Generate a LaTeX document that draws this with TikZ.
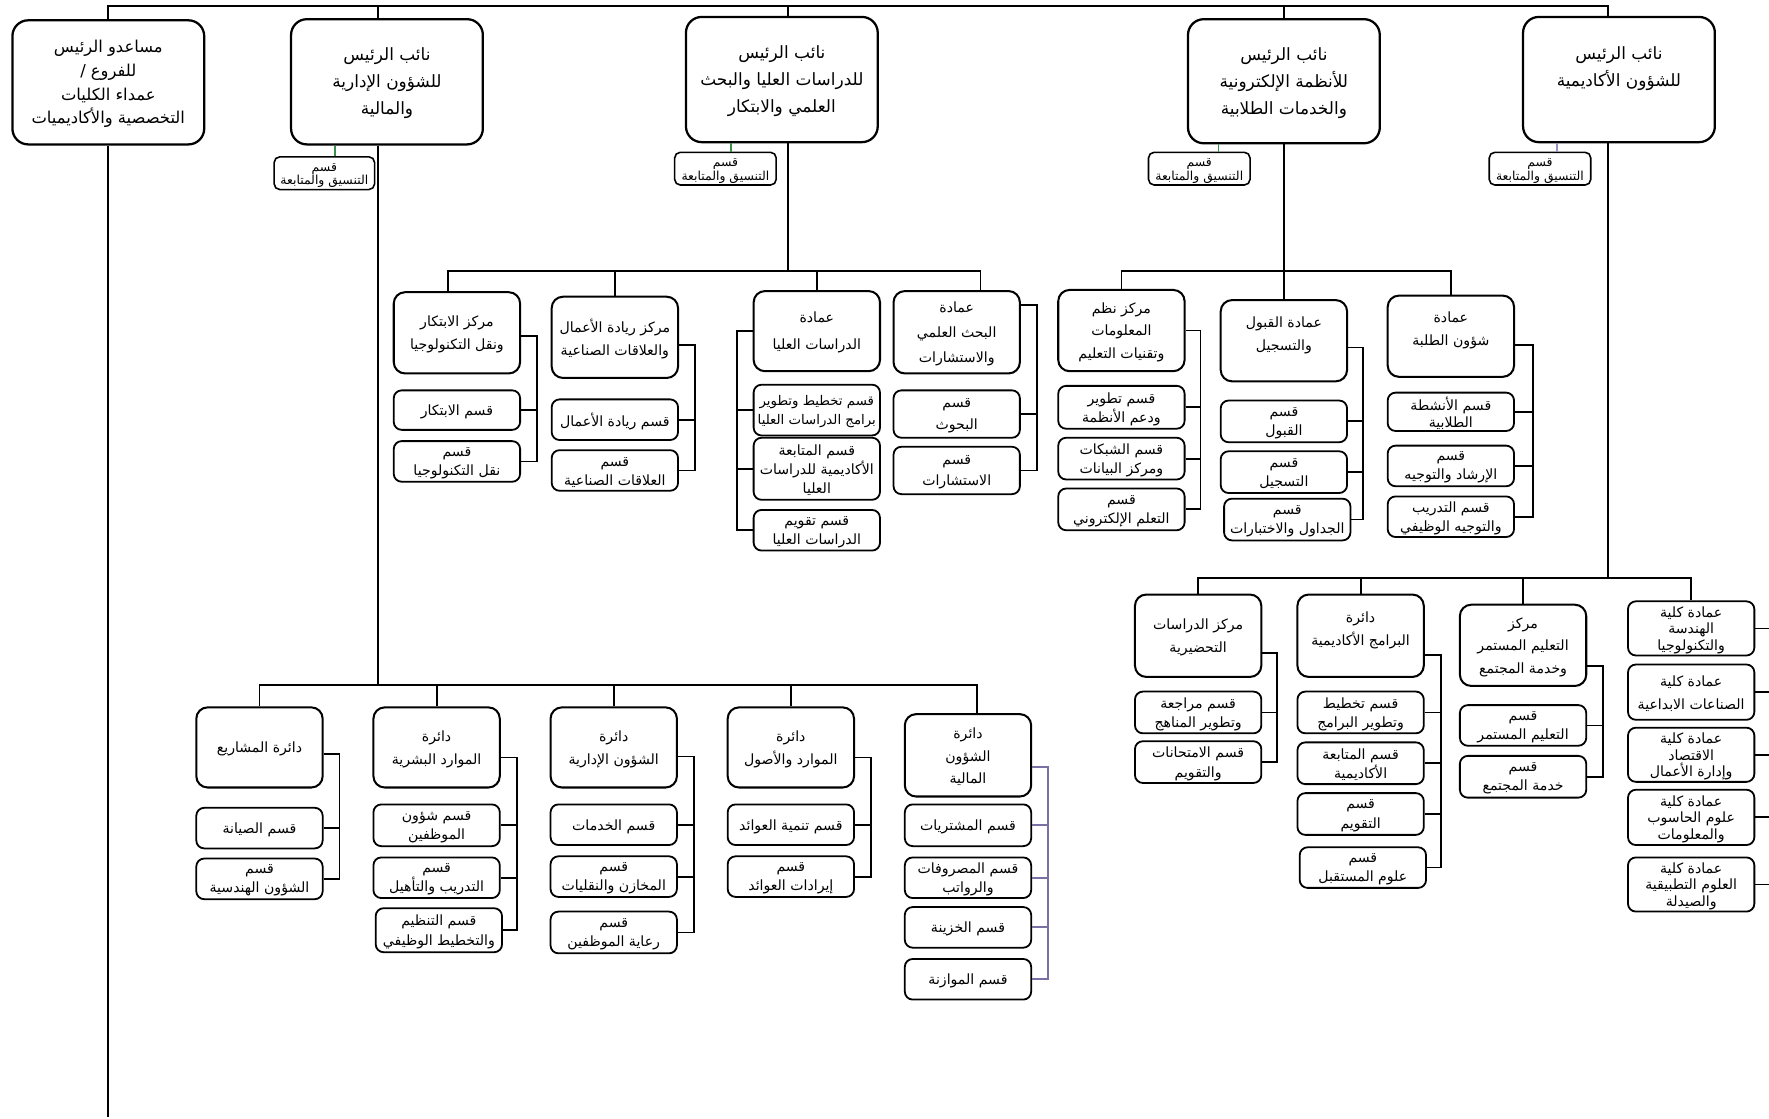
\documentclass[tikz,border=0pt]{standalone}
\usepackage{fontspec}
\usetikzlibrary{fit}
\newfontfamily\arabicfont[Script=Arabic]{DejaVu Sans}
\TeXXeTstate=1
\newcommand{\arl}[1]{\beginR #1\endR}
\definecolor{grn}{HTML}{3A8F4A}
\definecolor{prp}{HTML}{7B6FA3}
\definecolor{lav}{HTML}{9A90BF}
\tikzset{
  vp/.style={draw, line width=2pt, rounded corners=14pt, fill=white, align=center, inner sep=0pt, font=\arabicfont\fontsize{15}{24}\selectfont},
  hd/.style={draw, line width=1.8pt, rounded corners=10pt, fill=white, align=center, inner sep=0pt, font=\arabicfont\fontsize{12.5}{20}\selectfont},
  sb/.style={draw, line width=1.6pt, rounded corners=7pt, fill=white, align=center, inner sep=0pt, font=\arabicfont\fontsize{12.5}{17}\selectfont},
  cl/.style={sb, font=\arabicfont\fontsize{12.5}{14.5}\selectfont},
  co/.style={draw, line width=1.4pt, rounded corners=5pt, fill=white, align=center, inner sep=0pt, font=\arabicfont\fontsize{11}{12}\selectfont},
  ln/.style={line width=1.6pt, draw=black},
  cln/.style={line width=1.5pt},
}
% box drawn to given corners, text placed slightly lower than centre
\newcommand{\bx}[5][sb]{%
  \node[#1, fit={(#3) (#4)}] (#2) {};%
  \node[#1, draw=none, fill=none] (#2t) at ([yshift=-1.5pt]#2.center) {#5};%
}
\newcommand{\cbx}[4]{%
  \node[co, fit={(#2) (#3)}] (#1) {};%
  \node[co, draw=none, fill=none] (#1t) at ([yshift=-2pt]#1.center) {#4};%
}
\begin{document}
\begin{tikzpicture}[x=1pt,y=-1pt]
\useasboundingbox (0,0) rectangle (1568,991);
\fill[white] (0,0) rectangle (1568,991);
% ---------- top level
\bx[vp, font=\arabicfont\fontsize{14.5}{21}\selectfont]{A}{11,18}{181,128}{\arl{مساعدو الرئيس}\\\arl{للفروع /}\\\arl{عمداء الكليات}\\\arl{التخصصية والأكاديميات}}
\bx[vp]{B}{258,17}{428,128}{\arl{نائب الرئيس}\\\arl{للشؤون الإدارية}\\\arl{والمالية}}
\bx[vp]{C}{608,15}{778,126}{\arl{نائب الرئيس}\\\arl{للدراسات العليا والبحث}\\\arl{العلمي والابتكار}}
\bx[vp]{D}{1053,17}{1223,127}{\arl{نائب الرئيس}\\\arl{للأنظمة الإلكترونية}\\\arl{والخدمات الطلابية}}
\bx[vp]{E}{1350,15}{1520,126}{\arl{نائب الرئيس}\\\arl{للشؤون الأكاديمية}\\[-6pt]\strut}
\cbx{Bco}{243,139}{332,168}{\arl{قسم}\\\arl{التنسيق والمتابعة}}
\cbx{Cco}{598,135}{688,164}{\arl{قسم}\\\arl{التنسيق والمتابعة}}
\cbx{Dco}{1018,135}{1108,164}{\arl{قسم}\\\arl{التنسيق والمتابعة}}
\cbx{Eco}{1320,135}{1410,164}{\arl{قسم}\\\arl{التنسيق والمتابعة}}
\coordinate (top) at (0,5);
\coordinate (abot) at (0,990);
\draw[ln] (A.north) -- (A.north |- top) -- ([xshift=-10pt]E.north |- top) -- ([xshift=-10pt]E.north);
\draw[ln] ([xshift=-8pt]B.north) -- ([xshift=-8pt]B.north |- top);
\draw[ln] ([xshift=5.5pt]C.north) -- ([xshift=5.5pt]C.north |- top);
\draw[ln] (D.north) -- (D.north |- top);
\draw[ln] (A.south) -- (A.south |- abot);
\draw[grn, cln] (Bco.north -| 297,0) -- (B.south -| 297,0);
\draw[grn, cln] (Cco.north -| 648,0) -- (C.south -| 648,0);
\draw[grn, cln] (Dco.north -| 1080,0) -- (D.south -| 1080,0);
\draw[lav, cln] (Eco.north -| 1380,0) -- (E.south -| 1380,0);

% ---------- section C
\bx[hd]{c1}{349,259}{461,331}{\arl{مركز الابتكار}\\\arl{ونقل التكنولوجيا}}
\bx{c1a}{349,346}{461,381}{\arl{قسم الابتكار}}
\bx{c1b}{349,391}{461,427}{\arl{قسم}\\\arl{نقل التكنولوجيا}}
\bx[hd]{c2}{489,263}{601,335}{\arl{مركز ريادة الأعمال}\\\arl{والعلاقات الصناعية}}
\bx{c2a}{489,354}{601,390}{\arl{قسم ريادة الأعمال}}
\bx{c2b}{489,399}{601,435}{\arl{قسم}\\\arl{العلاقات الصناعية}}
\bx[hd]{c3}{668,258}{780,329}{\arl{عمادة}\\[4pt]\arl{الدراسات العليا}}
\bx[sb, font=\arabicfont\fontsize{11.8}{17}\selectfont]{c3a}{668,341}{780,386}{\arl{قسم تخطيط وتطوير}\\\arl{برامج الدراسات العليا}}
\bx{c3b}{668,388}{780,443}{\arl{قسم المتابعة}\\\arl{الأكاديمية للدراسات}\\\arl{العليا}}
\bx{c3c}{668,452}{780,488}{\arl{قسم تقويم}\\\arl{الدراسات العليا}}
\bx[hd, font=\arabicfont\fontsize{12.5}{22}\selectfont]{c4}{792,258}{904,331}{\arl{عمادة}\\\arl{البحث العلمي}\\\arl{والاستشارات}}
\bx[sb, font=\arabicfont\fontsize{12.5}{19}\selectfont]{c4a}{792,346}{904,388}{\arl{قسم}\\\arl{البحوث}}
\bx[sb, font=\arabicfont\fontsize{12.5}{19}\selectfont]{c4b}{792,396}{904,438}{\arl{قسم}\\\arl{الاستشارات}}
\coordinate (cbar) at (0,240);
\draw[ln] ([xshift=5.5pt]C.south) -- ([xshift=5.5pt]C.south |- cbar);
\draw[ln] ([xshift=-8pt]c1.north) -- ([xshift=-8pt]c1.north |- cbar) -- ([xshift=21pt]c4.north |- cbar) -- ([xshift=21pt]c4.north);
\draw[ln] (c2.north) -- (c2.north |- cbar);
\draw[ln] (c3.north) -- (c3.north |- cbar);
\coordinate (kc1) at (476,0);
\draw[ln] ([yshift=-3pt]c1.east) -- ([yshift=-3pt]c1.east -| kc1) -- (c1b.east -| kc1) -- (c1b.east);
\draw[ln] (c1a.east) -- (c1a.east -| kc1);
\coordinate (kc2) at (616,0);
\draw[ln] ([yshift=-7pt]c2.east) -- ([yshift=-7pt]c2.east -| kc2) -- (c2b.east -| kc2) -- (c2b.east);
\draw[ln] (c2a.east) -- (c2a.east -| kc2);
\coordinate (kc3) at (653,0);
\draw[ln] (c3.west) -- (c3.west -| kc3) -- (c3c.west -| kc3) -- (c3c.west);
\draw[ln] (c3a.west) -- (c3a.west -| kc3);
\draw[ln] (c3b.west) -- (c3b.west -| kc3);
\coordinate (kc4) at (919,0);
\draw[ln] ([yshift=24pt]c4.east) -- ([yshift=24pt]c4.east -| kc4) -- (c4b.east -| kc4) -- (c4b.east);
\draw[ln] (c4a.east) -- (c4a.east -| kc4);

% ---------- section D
\bx[hd]{d1}{938,257}{1050,329}{\arl{مركز نظم}\\\arl{المعلومات}\\\arl{وتقنيات التعليم}}
\bx{d1a}{938,342}{1050,380}{\arl{قسم تطوير}\\\arl{ودعم الأنظمة}}
\bx{d1b}{938,388}{1050,425}{\arl{قسم الشبكات}\\\arl{ومركز البيانات}}
\bx{d1c}{938,433}{1050,470}{\arl{قسم}\\\arl{التعلم الإلكتروني}}
\bx[hd]{d2}{1082,266}{1194,338}{\arl{عمادة القبول}\\\arl{والتسجيل}\\[-10pt]\strut}
\bx{d2a}{1082,355}{1194,392}{\arl{قسم}\\\arl{القبول}}
\bx{d2b}{1082,400}{1194,437}{\arl{قسم}\\\arl{التسجيل}}
\bx{d2c}{1085,442}{1197,479}{\arl{قسم}\\\arl{الجداول والاختبارات}}
\bx[hd]{d3}{1230,262}{1342,334}{\arl{عمادة}\\\arl{شؤون الطلبة}\\[-10pt]\strut}
\bx[sb, font=\arabicfont\fontsize{12.5}{15}\selectfont]{d3a}{1230,348}{1342,382}{\arl{قسم الأنشطة}\\\arl{الطلابية}}
\bx{d3b}{1230,395}{1342,431}{\arl{قسم}\\\arl{الإرشاد والتوجيه}}
\bx{d3c}{1230,440}{1342,476}{\arl{قسم التدريب}\\\arl{والتوجيه الوظيفي}}
\coordinate (dbar) at (0,240);
\draw[ln] (D.south) -- (D.south |- dbar);
\draw[ln] (d1.north) -- (d1.north |- dbar) -- (d3.north |- dbar) -- (d3.north);
\draw[ln] (d2.north) -- (d2.north |- dbar);
\coordinate (kd1) at (1064,0);
\draw[ln] (d1.east) -- (d1.east -| kd1) -- (d1c.east -| kd1) -- (d1c.east);
\draw[ln] (d1a.east) -- (d1a.east -| kd1);
\draw[ln] (d1b.east) -- (d1b.east -| kd1);
\coordinate (kd2) at (1208,0);
\draw[ln] ([yshift=-6pt]d2.east) -- ([yshift=-6pt]d2.east -| kd2) -- (d2c.east -| kd2) -- (d2c.east);
\draw[ln] (d2a.east) -- (d2a.east -| kd2);
\draw[ln] (d2b.east) -- (d2b.east -| kd2);
\coordinate (kd3) at (1359,0);
\draw[ln] ([yshift=-8pt]d3.east) -- ([yshift=-8pt]d3.east -| kd3) -- (d3c.east -| kd3) -- (d3c.east);
\draw[ln] (d3a.east) -- (d3a.east -| kd3);
\draw[ln] (d3b.east) -- (d3b.east -| kd3);

% ---------- section E (academic)
\bx[hd]{e1}{1006,527}{1118,600}{\arl{مركز الدراسات}\\\arl{التحضيرية}}
\bx{e1a}{1006,613}{1118,650}{\arl{قسم مراجعة}\\\arl{وتطوير المناهج}}
\bx{e1b}{1006,657}{1118,694}{\arl{قسم الامتحانات}\\\arl{والتقويم}}
\bx[hd]{e2}{1150,527}{1262,600}{\arl{دائرة}\\\arl{البرامج الأكاديمية}\\[-10pt]\strut}
\bx{e2a}{1150,613}{1262,650}{\arl{قسم تخطيط}\\\arl{وتطوير البرامج}}
\bx{e2b}{1150,658}{1262,695}{\arl{قسم المتابعة}\\\arl{الأكاديمية}}
\bx{e2c}{1150,703}{1262,740}{\arl{قسم}\\\arl{التقويم}}
\bx{e2d}{1152,751}{1264,787}{\arl{قسم}\\\arl{علوم المستقبل}}
\bx[hd]{e3}{1294,536}{1406,608}{\arl{مركز}\\\arl{التعليم المستمر}\\\arl{وخدمة المجتمع}}
\bx{e3a}{1294,625}{1406,661}{\arl{قسم}\\\arl{التعليم المستمر}}
\bx{e3b}{1294,670}{1406,707}{\arl{قسم}\\\arl{خدمة المجتمع}}
\bx[cl]{e4}{1443,533}{1555,581}{\arl{عمادة كلية}\\\arl{الهندسة}\\\arl{والتكنولوجيا}}
\bx[cl, font=\arabicfont\fontsize{12.5}{20}\selectfont]{e5}{1443,589}{1555,638}{\arl{عمادة كلية}\\\arl{الصناعات الابداعية}}
\bx[cl]{e6}{1443,645}{1555,693}{\arl{عمادة كلية}\\\arl{الاقتصاد}\\\arl{وإدارة الأعمال}}
\bx[cl]{e7}{1443,700}{1555,749}{\arl{عمادة كلية}\\\arl{علوم الحاسوب}\\\arl{والمعلومات}}
\bx[cl]{e8}{1443,760}{1555,808}{\arl{عمادة كلية}\\\arl{العلوم التطبيقية}\\\arl{والصيدلة}}
\coordinate (ebar) at (0,512);
\draw[ln] ([xshift=-10pt]E.south) -- ([xshift=-10pt]E.south |- ebar);
\draw[ln] (e1.north) -- (e1.north |- ebar) -- (e4.north |- ebar) -- (e4.north);
\draw[ln] (e2.north) -- (e2.north |- ebar);
\draw[ln] (e3.north) -- (e3.north |- ebar);
\coordinate (ke1) at (1132,0);
\draw[ln] ([yshift=-15pt]e1.east) -- ([yshift=-15pt]e1.east -| ke1) -- (e1b.east -| ke1) -- (e1b.east);
\draw[ln] (e1a.east) -- (e1a.east -| ke1);
\coordinate (ke2) at (1277,0);
\draw[ln] ([yshift=-17pt]e2.east) -- ([yshift=-17pt]e2.east -| ke2) -- (e2d.east -| ke2) -- (e2d.east);
\draw[ln] (e2a.east) -- (e2a.east -| ke2);
\draw[ln] (e2b.east) -- (e2b.east -| ke2);
\draw[ln] (e2c.east) -- (e2c.east -| ke2);
\coordinate (ke3) at (1421,0);
\draw[ln] ([yshift=-18pt]e3.east) -- ([yshift=-18pt]e3.east -| ke3) -- (e3b.east -| ke3) -- (e3b.east);
\draw[ln] (e3a.east) -- (e3a.east -| ke3);
\coordinate (kedge) at (1568,0);
\foreach \n in {e4,e5,e6,e7,e8} { \draw[ln] (\n.east) -- (\n.east -| kedge); }

% ---------- section B (admin/finance)
\bx[hd]{b1}{174,627}{286,698}{\arl{دائرة المشاريع}}
\bx{b1a}{174,716}{286,752}{\arl{قسم الصيانة}}
\bx{b1b}{174,761}{286,797}{\arl{قسم}\\\arl{الشؤون الهندسية}}
\bx[hd]{b2}{331,627}{443,698}{\arl{دائرة}\\\arl{الموارد البشرية}}
\bx{b2a}{331,713}{443,750}{\arl{قسم شؤون}\\\arl{الموظفين}}
\bx{b2b}{331,760}{443,796}{\arl{قسم}\\\arl{التدريب والتأهيل}}
\bx{b2c}{333,805}{445,844}{\arl{قسم التنظيم}\\\arl{والتخطيط الوظيفي}}
\bx[hd]{b3}{488,627}{600,698}{\arl{دائرة}\\\arl{الشؤون الإدارية}}
\bx{b3a}{488,713}{600,749}{\arl{قسم الخدمات}}
\bx{b3b}{488,759}{600,795}{\arl{قسم}\\\arl{المخازن والنقليات}}
\bx{b3c}{488,808}{600,845}{\arl{قسم}\\\arl{رعاية الموظفين}}
\bx[hd]{b4}{645,627}{757,698}{\arl{دائرة}\\\arl{الموارد والأصول}}
\bx{b4a}{645,713}{757,749}{\arl{قسم تنمية العوائد}}
\bx{b4b}{645,759}{757,795}{\arl{قسم}\\\arl{إيرادات العوائد}}
\bx[hd]{b5}{802,633}{914,706}{\arl{دائرة}\\\arl{الشؤون}\\\arl{المالية}}
\bx{b5a}{802,713}{914,750}{\arl{قسم المشتريات}}
\bx{b5b}{802,760}{914,796}{\arl{قسم المصروفات}\\\arl{والرواتب}}
\bx{b5c}{802,804}{914,840}{\arl{قسم الخزينة}}
\bx{b5d}{802,850}{914,886}{\arl{قسم الموازنة}}
\coordinate (bbar) at (0,607);
\draw[ln] ([xshift=-8pt]B.south) -- ([xshift=-8pt]B.south |- bbar);
\draw[ln] (b1.north) -- (b1.north |- bbar) -- ([xshift=8pt]b5.north |- bbar) -- ([xshift=8pt]b5.north);
\draw[ln] (b2.north) -- (b2.north |- bbar);
\draw[ln] (b3.north) -- (b3.north |- bbar);
\draw[ln] (b4.north) -- (b4.north |- bbar);
\coordinate (kb1) at (301,0);
\draw[ln] ([yshift=-6pt]b1.east) -- ([yshift=-6pt]b1.east -| kb1) -- (b1b.east -| kb1) -- (b1b.east);
\draw[ln] (b1a.east) -- (b1a.east -| kb1);
\coordinate (kb2) at (458,0);
\draw[ln] ([yshift=-9pt]b2.east) -- ([yshift=-9pt]b2.east -| kb2) -- (b2c.east -| kb2) -- (b2c.east);
\draw[ln] (b2a.east) -- (b2a.east -| kb2);
\draw[ln] (b2b.east) -- (b2b.east -| kb2);
\coordinate (kb3) at (615,0);
\draw[ln] ([yshift=-8pt]b3.east) -- ([yshift=-8pt]b3.east -| kb3) -- (b3c.east -| kb3) -- (b3c.east);
\draw[ln] (b3a.east) -- (b3a.east -| kb3);
\draw[ln] (b3b.east) -- (b3b.east -| kb3);
\coordinate (kb4) at (772,0);
\draw[ln] ([yshift=-9pt]b4.east) -- ([yshift=-9pt]b4.east -| kb4) -- (b4b.east -| kb4) -- (b4b.east);
\draw[ln] (b4a.east) -- (b4a.east -| kb4);
\coordinate (kb5) at (929,0);
\draw[ln, draw=prp] ([yshift=-10pt]b5.east) -- ([yshift=-10pt]b5.east -| kb5) -- (b5d.east -| kb5) -- (b5d.east);
\draw[ln, draw=prp] (b5a.east) -- (b5a.east -| kb5);
\draw[ln, draw=prp] (b5b.east) -- (b5b.east -| kb5);
\draw[ln, draw=prp] (b5c.east) -- (b5c.east -| kb5);
\end{tikzpicture}
\end{document}
